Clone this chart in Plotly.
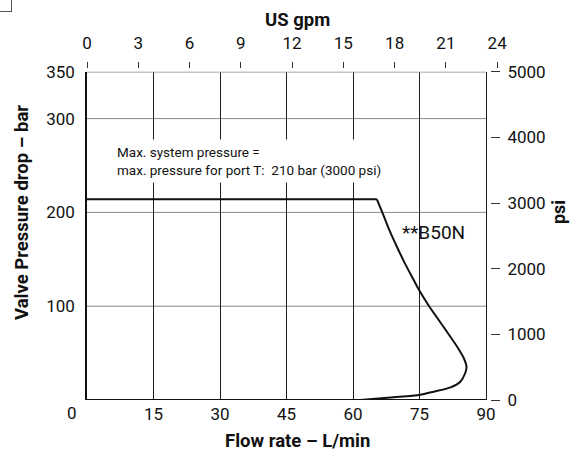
import plotly.graph_objects as go

# ---- data ----
plateau_flow_lpm = [0, 65.4]
plateau_bar = [214, 214]

curve_flow_lpm = [65.4, 66.7, 68.2, 69.9, 71.7, 73.7, 74.9, 77.1, 80.4, 83.5, 85.0,
                  85.6, 85.3, 84.2, 82.0, 78.2, 75.0, 69.2, 61.6]
curve_bar = [214, 199, 181, 163.4, 145.7, 127.9, 117.3, 100.5, 78.1, 56.8, 44.5,
             35.5, 28.5, 19.5, 13.5, 8.8, 5.3, 2.9, 0]

x_ticks_lpm = [15, 30, 45, 60, 75, 90]
x_max_lpm = 90
y_ticks_bar = [100, 200, 300, 350]
y_grid_bar = [100, 200, 300]
y_max_bar = 350
top_ticks_gpm = [0, 3, 6, 9, 12, 15, 18, 21, 24]
right_ticks_psi = [0, 1000, 2000, 3000, 4000, 5000]

note_text = "Max. system pressure =<br>max. pressure for port T: \u00a0210 bar (3000 psi)"
curve_label = "**B50N"

FONT = "Roboto, Liberation Sans, sans-serif"

W, H = 572, 451
L, R, T, B = 87, 72, 68, 51
PW, PH = W - L - R, H - T - B
X_RIGHT_PX = 486          # pixel of 90 L/min
GPM_PX = 17.09            # pixels per US gpm on the top scale


def fx(px):
    return (px - L) / PW


def fy(py):
    return (H - B - py) / PH


fig = go.Figure()
fig.add_trace(go.Scatter(x=plateau_flow_lpm, y=plateau_bar, mode="lines",
                         line=dict(color="#111111", width=2), hoverinfo="skip"))
fig.add_trace(go.Scatter(x=curve_flow_lpm, y=curve_bar, mode="lines",
                         line=dict(color="#111111", width=2, shape="spline", smoothing=0.6),
                         hoverinfo="skip"))
# empty helper traces so that the secondary scales are drawn
fig.add_trace(go.Scatter(x=[None], y=[None], xaxis="x2", yaxis="y", mode="lines",
                         hoverinfo="skip"))
fig.add_trace(go.Scatter(x=[None], y=[None], xaxis="x", yaxis="y2", mode="lines",
                         hoverinfo="skip"))

ydom_end = (H - B - 71.7) / PH
x_range_end = x_max_lpm * PW / (X_RIGHT_PX - L)

fig.update_layout(
    width=W, height=H,
    margin=dict(l=L, r=R, t=T, b=B, autoexpand=False),
    plot_bgcolor="white", paper_bgcolor="white",
    showlegend=False,
    font=dict(family=FONT, size=17, color="#111111"),
    xaxis=dict(domain=[0, 1], range=[0, x_range_end], tickvals=x_ticks_lpm,
               ticks="", showgrid=True, gridcolor="#1e1e1e", gridwidth=1,
               showline=False, zeroline=False,
               tickfont=dict(size=17), ticklabelstandoff=2),
    yaxis=dict(domain=[0, ydom_end], range=[0, y_max_bar], tickvals=y_ticks_bar,
               ticks="", showgrid=False,
               showline=True, linecolor="#111111", linewidth=1.5,
               zeroline=False, tickfont=dict(size=17), ticklabelstandoff=7),
    xaxis2=dict(overlaying="x", range=[0, PW / GPM_PX], tickvals=top_ticks_gpm,
                anchor="free", position=1, side="top", ticks="outside", ticklen=6,
                tickcolor="#333333", tickwidth=1, showgrid=False, showline=False,
                zeroline=False, tickfont=dict(size=17), ticklabelstandoff=6),
    yaxis2=dict(overlaying="y", range=[0, 5000], tickvals=right_ticks_psi,
                anchor="free", position=(490 - L) / PW, side="right",
                ticks="outside", ticklen=9, tickcolor="#333333", tickwidth=1,
                showgrid=False, showline=False, zeroline=False,
                tickfont=dict(size=17), ticklabelstandoff=4),
)

# horizontal grid lines (gray), limited to the frame
for v in y_grid_bar:
    fig.add_shape(type="line", xref="x", yref="y", x0=0, x1=x_max_lpm, y0=v, y1=v,
                  layer="below", line=dict(color="#8a8a8a", width=1))
# top border (gray) and bottom border (black)
fig.add_shape(type="line", xref="x", yref="y", x0=0, x1=x_max_lpm, y0=y_max_bar,
              y1=y_max_bar, line=dict(color="#8a8a8a", width=1.5))
fig.add_shape(type="line", xref="x", yref="y", x0=0, x1=x_max_lpm, y0=0, y1=0,
              line=dict(color="#111111", width=2.2))

ann = []
# small corner box at top-left of the page
ann.append(dict(text=" ", x=fx(-2), y=fy(-2), xref="paper", yref="paper",
                showarrow=False, xanchor="left", yanchor="top", width=12, height=12,
                borderpad=0, borderwidth=1, bordercolor="#555555", font=dict(size=8)))
ann.append(dict(text="<b>US gpm</b>", x=fx(297), y=fy(20), xref="paper", yref="paper",
                showarrow=False, xanchor="center", yanchor="middle", font=dict(size=18.5)))
ann.append(dict(text="<b>Flow rate – L/min</b>", x=fx(297), y=fy(441), xref="paper",
                yref="paper", showarrow=False, xanchor="center", yanchor="middle",
                font=dict(size=18.5)))
ann.append(dict(text="<b>Valve Pressure drop – bar</b>", x=fx(22), y=fy(213), xref="paper",
                yref="paper", showarrow=False, xanchor="center", yanchor="middle",
                textangle=-90, font=dict(size=18.5)))
ann.append(dict(text="<b>psi</b>", x=fx(559), y=fy(212), xref="paper", yref="paper",
                showarrow=False, xanchor="center", yanchor="middle", textangle=-90,
                font=dict(size=18)))
ann.append(dict(text="0", x=fx(72), y=fy(413), xref="paper", yref="paper",
                showarrow=False, xanchor="center", yanchor="middle", font=dict(size=17)))
ann.append(dict(text=note_text, x=fx(112), y=fy(160.5), xref="paper", yref="paper",
                showarrow=False, xanchor="left", yanchor="middle", align="left",
                bgcolor="white", borderpad=4, font=dict(size=13.5)))
ann.append(dict(text=curve_label, x=fx(400), y=fy(232), xref="paper", yref="paper",
                showarrow=False, xanchor="left", yanchor="middle", font=dict(size=19)))
fig.update_layout(annotations=ann)

fig.write_html("out.html", config={"displayModeBar": False},
               post_script="document.body.style.margin='0';")
